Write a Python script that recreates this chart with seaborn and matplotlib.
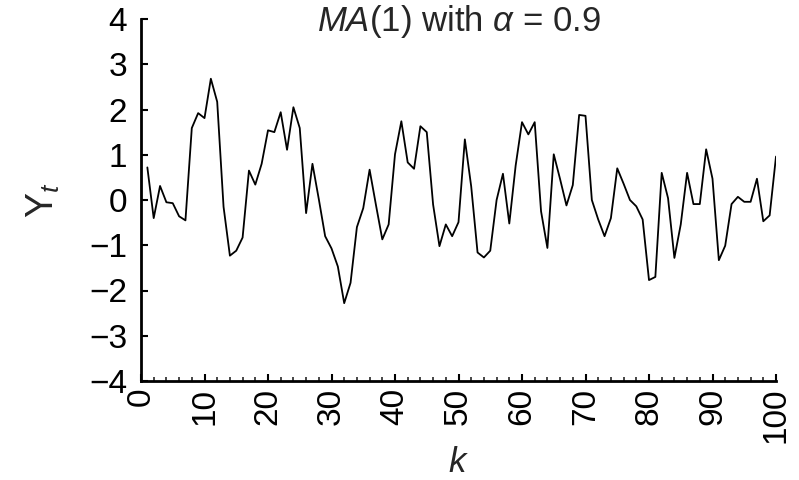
import numpy as np
import pandas as pd
import matplotlib
matplotlib.use("Agg")
import matplotlib.pyplot as plt
from matplotlib.ticker import MultipleLocator
import seaborn as sns

k = list(range(1, 101))
y_t = [0.72, -0.40, 0.31, -0.05, -0.07, -0.36, -0.45, 1.59, 1.92, 1.81,
       2.68, 2.17, -0.15, -1.23, -1.12, -0.83, 0.65, 0.34, 0.80, 1.54,
       1.50, 1.94, 1.11, 2.05, 1.59, -0.29, 0.80, 0.02, -0.80, -1.07,
       -1.47, -2.28, -1.83, -0.60, -0.18, 0.67, -0.11, -0.87, -0.54, 1.01,
       1.74, 0.83, 0.69, 1.63, 1.50, -0.10, -1.02, -0.54, -0.80, -0.49,
       1.34, 0.30, -1.16, -1.27, -1.12, 0.00, 0.58, -0.52, 0.76, 1.72,
       1.45, 1.72, -0.25, -1.06, 1.01, 0.46, -0.12, 0.33, 1.88, 1.86,
       0.00, -0.43, -0.80, -0.40, 0.70, 0.36, 0.00, -0.14, -0.43, -1.77,
       -1.70, 0.60, 0.04, -1.28, -0.54, 0.60, -0.09, -0.09, 1.12, 0.47,
       -1.33, -1.01, -0.09, 0.07, -0.04, -0.04, 0.47, -0.47, -0.34, 0.96]
x_ticks = [0, 10, 20, 30, 40, 50, 60, 70, 80, 90, 100]
y_ticks = [-4, -3, -2, -1, 0, 1, 2, 3, 4]
title = r"$\mathit{MA}$(1) with $\alpha$ = 0.9"
xlabel = r"$k$"
ylabel = r"$\mathrm{Y}_{t}$"

sns.set_style("ticks")
plt.rcParams["font.family"] = ["Liberation Sans", "DejaVu Sans"]
plt.rcParams["mathtext.fontset"] = "custom"
plt.rcParams["mathtext.rm"] = "Liberation Sans"
plt.rcParams["mathtext.it"] = "Liberation Sans:italic"
plt.rcParams["mathtext.bf"] = "Liberation Sans:bold"

df = pd.DataFrame({"k": k, "Y": y_t})

fig = plt.figure(figsize=(7.99, 4.80), dpi=100)
ax = fig.add_axes([141 / 799, 1 - 381 / 480, 635 / 799, 362 / 480])

sns.lineplot(data=df, x="k", y="Y", ax=ax, color="black", linewidth=1.3)

ax.set_xlim(0, 100)
ax.set_ylim(-4, 4)
ax.set_xticks(x_ticks)
ax.set_yticks(y_ticks)
ax.xaxis.set_minor_locator(MultipleLocator(2))
for s in ["top", "right"]:
    ax.spines[s].set_visible(False)
for s in ["left", "bottom"]:
    ax.spines[s].set_linewidth(2.0)
    ax.spines[s].set_color("black")

ax.tick_params(axis="both", which="major", direction="in", length=5, width=1.5,
               labelsize=24, colors="black")
ax.tick_params(axis="x", which="major", pad=5, labelrotation=90)
ax.tick_params(axis="y", which="major", pad=10)
ax.tick_params(axis="x", which="minor", direction="in", length=3, width=1.2)

ax.set_xlabel(xlabel, fontsize=25)
ax.set_ylabel(ylabel, fontsize=27, rotation=90)
ax.xaxis.label.set_va("center")
ax.yaxis.label.set_va("center")
ax.xaxis.set_label_coords(0.5, (381 - 463) / 362)
ax.yaxis.set_label_coords((43 - 141) / 635, 0.5)

ax.text(0.5, (381 - 22) / 362, title, transform=ax.transAxes, ha="center",
        va="center", fontsize=25)

fig.savefig("out.png", dpi=100)
